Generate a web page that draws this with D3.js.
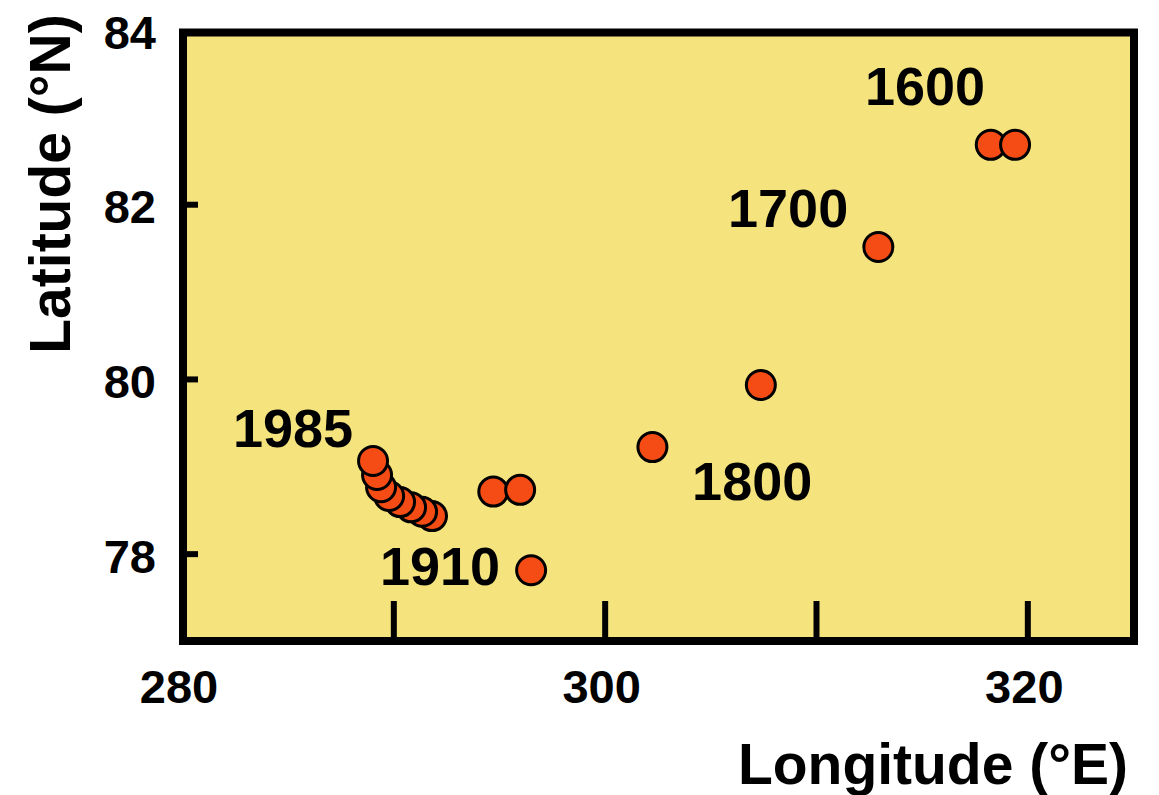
<!DOCTYPE html>
<html>
<head>
<meta charset="utf-8">
<script src="https://cdn.jsdelivr.net/npm/d3@7"></script>
<style>
  html, body { margin: 0; padding: 0; background: #ffffff; }
  svg { display: block; }
  text { font-family: "Liberation Sans", Arial, Helvetica, sans-serif; font-weight: bold; fill: #000; }
</style>
</head>
<body>
<svg id="chart" width="1159" height="795"></svg>
<script>
// Pole positions (longitude °E, latitude °N), oldest to most recent
const longitude = [318.27, 319.42, 312.95, 307.39, 302.26, 294.73, 296.0, 296.52,
                   291.83, 291.36, 290.84, 290.32, 289.80, 289.42, 289.23, 289.04];
const latitude  = [82.68, 82.68, 81.51, 79.93, 79.22, 78.71, 78.73, 77.81,
                   78.43, 78.48, 78.53, 78.59, 78.66, 78.76, 78.90, 79.06];

// Year annotations and the coordinates they sit at
const yearLabels = ["1600", "1700", "1800", "1910", "1985"];
const yearLon    = [315.16, 308.68, 306.98, 292.21, 285.25];
const yearLat    = [83.14, 81.74, 78.61, 77.64, 79.22];

// Axis ticks
const xTicks = [290, 300, 310, 320];
const xTickLabels = [280, 300, 320];
const yTicks = [78, 80, 82];
const yTickLabels = [78, 80, 82, 84];

const svg = d3.select("#chart");

const x = d3.scaleLinear().domain([280, 325]).range([182, 1133]);
const y = d3.scaleLinear().domain([77, 84]).range([641, 29.5]);

const [x0, x1] = x.range();
const [y0, y1] = y.range();

// Plot background
svg.append("rect")
  .attr("x", x0).attr("y", y1)
  .attr("width", x1 - x0).attr("height", y0 - y1)
  .attr("fill", "#F5E37E");

// Bottom ticks point up into the plot
const xAxis = d3.axisBottom(x).tickValues(xTicks).tickSize(-40).tickFormat("");
svg.append("g")
  .attr("transform", `translate(0,${y0})`)
  .call(xAxis)
  .call(g => g.select(".domain").remove())
  .call(g => g.selectAll(".tick line").attr("stroke", "#000").attr("stroke-width", 6));

// Left ticks point right into the plot
const yAxis = d3.axisLeft(y).tickValues(yTicks).tickSize(-16).tickFormat("");
svg.append("g")
  .attr("transform", `translate(${x0},0)`)
  .call(yAxis)
  .call(g => g.select(".domain").remove())
  .call(g => g.selectAll(".tick line").attr("stroke", "#000").attr("stroke-width", 6));

// Tick labels
svg.append("g").selectAll("text")
  .data(xTickLabels)
  .join("text")
  .attr("x", d => x(d) - 3)
  .attr("y", 703)
  .attr("text-anchor", "middle")
  .attr("font-size", 47)
  .text(d => d);

svg.append("g").selectAll("text")
  .data(yTickLabels)
  .join("text")
  .attr("x", 156)
  .attr("y", d => y(d) + 19)
  .attr("text-anchor", "end")
  .attr("font-size", 47)
  .text(d => d);

// Frame
svg.append("rect")
  .attr("x", x0 + 1).attr("y", y1 + 3)
  .attr("width", x1 - x0).attr("height", y0 - y1 - 3)
  .attr("fill", "none")
  .attr("stroke", "#000")
  .attr("stroke-width", 8);

// Pole positions
svg.append("g").selectAll("circle")
  .data(longitude.map((lon, i) => ({ lon, lat: latitude[i] })))
  .join("circle")
  .attr("cx", d => x(d.lon))
  .attr("cy", d => y(d.lat))
  .attr("r", 14.5)
  .attr("fill", "#F44C14")
  .attr("stroke", "#000")
  .attr("stroke-width", 3);

// Year annotations
svg.append("g").selectAll("text")
  .data(yearLabels.map((t, i) => ({ t, lon: yearLon[i], lat: yearLat[i] })))
  .join("text")
  .attr("x", d => x(d.lon))
  .attr("y", d => y(d.lat))
  .attr("text-anchor", "middle")
  .attr("font-size", 54)
  .text(d => d.t);

// Axis titles
svg.append("text")
  .attr("x", 1128)
  .attr("y", 784)
  .attr("text-anchor", "end")
  .attr("font-size", 57)
  .text("Longitude (°E)");

svg.append("text")
  .attr("transform", "translate(70,184) rotate(-90)")
  .attr("text-anchor", "middle")
  .attr("font-size", 57)
  .text("Latitude (°N)");
</script>
</body>
</html>
